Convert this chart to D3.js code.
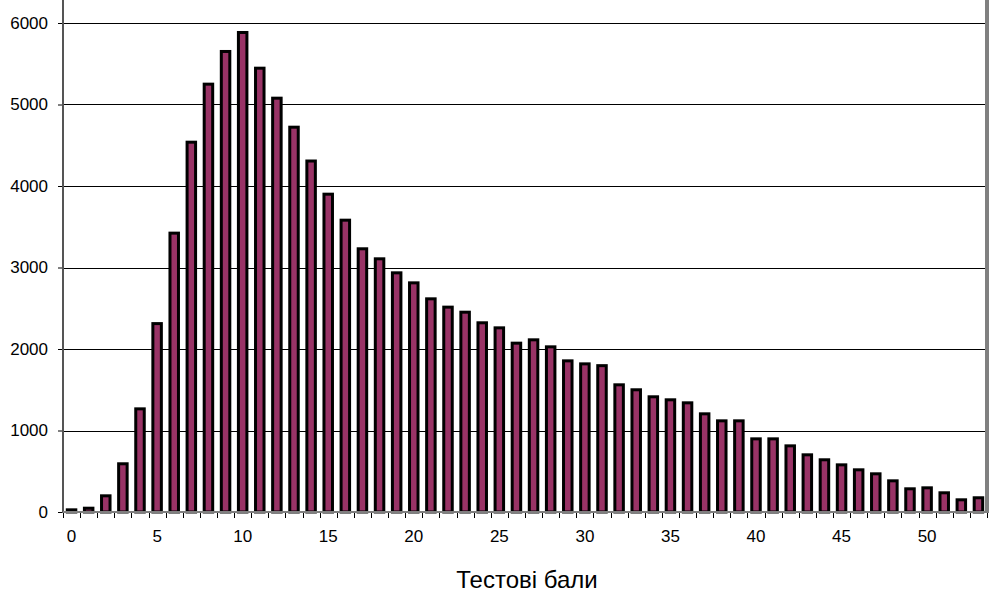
<!DOCTYPE html>
<html>
<head>
<meta charset="utf-8">
<script src="https://cdn.jsdelivr.net/npm/d3@7"></script>
<style>
  html, body { margin: 0; padding: 0; background: #fff; }
  svg { display: block; }
  text { font-family: "Liberation Sans", Arial, sans-serif; fill: #000; }
</style>
</head>
<body>
<svg id="chart" width="989" height="596"></svg>
<script>
const categories = d3.range(0, 54);
const values = [45, 65, 217, 610, 1284, 2330, 3440, 4556, 5268, 5669,
  5902, 5464, 5096, 4740, 4325, 3918, 3599, 3248, 3125, 2953,
  2830, 2634, 2532, 2470, 2340, 2278, 2090, 2131, 2045, 1873,
  1836, 1814, 1579, 1518, 1432, 1395, 1358, 1223, 1137, 1137,
  916, 916, 830, 720, 659, 597, 536, 487, 401, 303,
  315, 254, 168, 193];
const yTicks = [0, 1000, 2000, 3000, 4000, 5000, 6000];
const xLabels = [0, 5, 10, 15, 20, 25, 30, 35, 40, 45, 50];
const xTitle = "Тестові бали";

const svg = d3.select("#chart");
const left = 63, right = 987, bottom = 512;

const x = d3.scaleBand().domain(categories).range([left, right]).paddingInner(0).paddingOuter(0);
const y = d3.scaleLinear().domain([0, 6000]).range([bottom, 23]);

// gridlines
svg.append("g").selectAll("line").data(yTicks.filter(d => d > 0)).join("line")
  .attr("x1", left).attr("x2", 985)
  .attr("y1", d => Math.round(y(d)) + 0.5).attr("y2", d => Math.round(y(d)) + 0.5)
  .attr("stroke", "#000").attr("stroke-width", 1);

// right gray border
svg.append("rect").attr("x", 985).attr("y", 0).attr("width", 4).attr("height", bottom)
  .attr("fill", "#808080");

// bars
const bw = x.bandwidth();
const outer = 11.5, sw = 3;
svg.append("g").selectAll("rect").data(categories).join("rect")
  .attr("x", d => x(d) + bw / 2 - outer / 2 + sw / 2)
  .attr("width", outer - sw)
  .attr("y", (d, i) => y(values[i]) + sw / 2)
  .attr("height", (d, i) => Math.max(0, bottom - y(values[i]) - sw / 2))
  .attr("fill", "#993366")
  .attr("stroke", "#000")
  .attr("stroke-width", sw);

// y axis
const yAxis = d3.axisLeft(y).tickValues(yTicks).tickSize(5).tickPadding(10).tickFormat(d3.format("d"));
const gy = svg.append("g").attr("transform", `translate(${left},0)`).call(yAxis);
gy.select(".domain").remove();
gy.selectAll(".tick line").attr("stroke", "#000");
gy.selectAll(".tick text").style("font-size", "17px").attr("fill", "#000");
svg.append("line").attr("x1", left).attr("x2", left).attr("y1", 0).attr("y2", bottom + 1)
  .attr("stroke", "#555").attr("stroke-width", 2);

// x axis
const xAxis = d3.axisBottom(x).tickValues(xLabels).tickSize(0).tickPadding(18);
const gx = svg.append("g").attr("transform", `translate(0,${bottom})`).call(xAxis);
gx.select(".domain").remove();
gx.selectAll(".tick text").style("font-size", "17px").attr("fill", "#000");
// tick marks at category boundaries
const bounds = categories.map(d => x(d)).concat([right]);
svg.append("g").selectAll("line").data(bounds).join("line")
  .attr("x1", d => Math.round(d) + 0.5).attr("x2", d => Math.round(d) + 0.5)
  .attr("y1", bottom).attr("y2", bottom + 6)
  .attr("stroke", "#000").attr("stroke-width", 1);
svg.append("line").attr("x1", left).attr("x2", 989).attr("y1", bottom).attr("y2", bottom)
  .attr("stroke", "#808080").attr("stroke-width", 2);

// x title
svg.append("text").attr("x", 527).attr("y", 588)
  .attr("text-anchor", "middle").style("font-size", "24px").text(xTitle);
</script>
</body>
</html>
